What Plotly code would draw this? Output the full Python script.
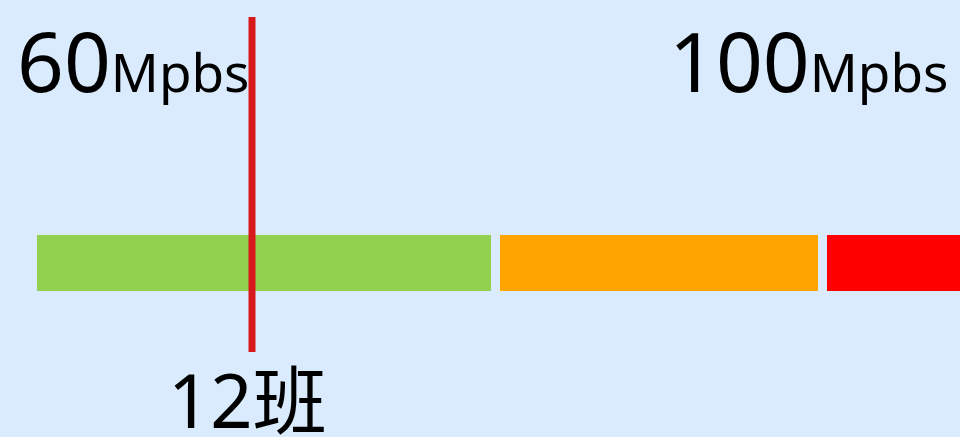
import plotly.graph_objects as go

# Data
segment_names = ["low", "mid", "high"]
segment_start = [37, 500, 827]
segment_end = [491, 818, 1000]
segment_colors = ["#92D050", "#FFA500", "#FF0000"]
marker_value = 252
marker_label = "12班"
left_label_num, left_label_unit = "60", "Mpbs"
right_label_num, right_label_unit = "100", "Mpbs"

W, H = 960, 437
bar_center = 437 - 263
bar_thickness = 56

fig = go.Figure()
for name, s, e, c in zip(segment_names, segment_start, segment_end, segment_colors):
    fig.add_trace(go.Bar(
        orientation="h", y=[bar_center], x=[e - s], base=[s], width=bar_thickness,
        marker=dict(color=c, line=dict(width=0)), name=name, showlegend=False, hoverinfo="skip"))

fig.add_trace(go.Scatter(
    x=[marker_value, marker_value], y=[437 - 17, 437 - 352], mode="lines",
    line=dict(color="#D7191C", width=7), showlegend=False, hoverinfo="skip"))

font_family = "Noto Sans, Open Sans, Noto Sans CJK SC"


def label(num, unit):
    return f"<span style='font-size:82px'>{num}</span>{unit}"


fig.add_annotation(x=15, y=437 - 118, xref="x", yref="y", text=label(left_label_num, left_label_unit),
                   showarrow=False, xanchor="left", yanchor="bottom",
                   font=dict(size=53, color="#000000", family=font_family))
fig.add_annotation(x=950, y=437 - 118, xref="x", yref="y", text=label(right_label_num, right_label_unit),
                   showarrow=False, xanchor="right", yanchor="bottom",
                   font=dict(size=53, color="#000000", family=font_family))
fig.add_annotation(x=247, y=0, xref="x", yref="y", yshift=-15, text=marker_label,
                   showarrow=False, xanchor="center", yanchor="bottom",
                   font=dict(size=74, color="#000000", family=font_family))

fig.update_layout(
    width=W, height=H, margin=dict(l=0, r=0, t=0, b=0),
    paper_bgcolor="#DAEBFD", plot_bgcolor="#DAEBFD",
    xaxis=dict(range=[0, W], visible=False, fixedrange=True),
    yaxis=dict(range=[0, H], visible=False, fixedrange=True),
    barmode="overlay",
)

fig.write_html("out.html", config={"displayModeBar": False},
               post_script="document.body.style.margin='0';document.body.style.background='#DAEBFD';")
